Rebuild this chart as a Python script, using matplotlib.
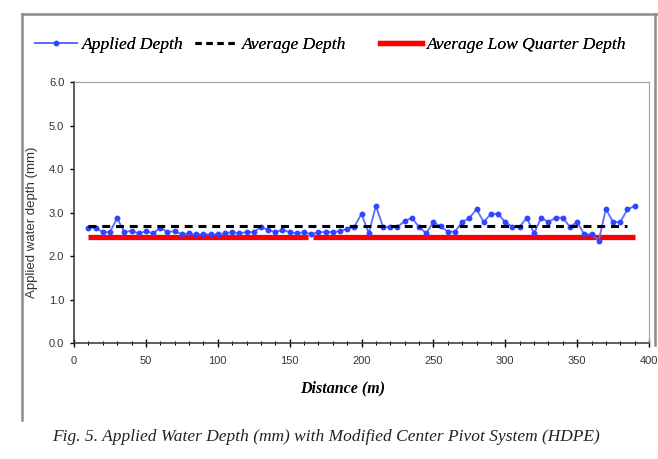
import numpy as np
import matplotlib
matplotlib.use("Agg")
import matplotlib.pyplot as plt
from matplotlib.lines import Line2D
from matplotlib.ticker import MultipleLocator, FormatStrFormatter

# %% — Data
distance = list(range(10, 395, 5))   # m, 10 ... 390
applied_depth = [
    2.65, 2.65, 2.55, 2.55, 2.87, 2.55, 2.58, 2.52, 2.57, 2.52,   # 10-55
    2.65, 2.55, 2.57, 2.50, 2.52, 2.50, 2.50, 2.50, 2.50, 2.52,   # 60-105
    2.55, 2.52, 2.55, 2.55, 2.67, 2.60, 2.55, 2.60, 2.55, 2.52,   # 110-155
    2.55, 2.50, 2.55, 2.55, 2.55, 2.57, 2.62, 2.67,               # 160-195
    2.97, 2.52, 3.15, 2.67, 2.67, 2.67, 2.80, 2.88, 2.67, 2.52,   # 200-245
    2.78, 2.68, 2.56, 2.56, 2.78, 2.87, 3.08, 2.78, 2.97, 2.97,   # 250-295
    2.78, 2.67, 2.67, 2.88, 2.52, 2.88, 2.78, 2.88, 2.88, 2.67,   # 300-345
    2.78, 2.50, 2.50, 2.35, 3.08, 2.78, 2.78, 3.07, 3.15,         # 350-390
]
avg_x     = [10, 385]
avg_depth = [2.69, 2.69]
lowq_x     = [10, 163, np.nan, 166, 390]   # small break in the red line
lowq_depth = [2.43, 2.43, np.nan, 2.43, 2.43]

xticks = list(range(0, 401, 50))
yticks = [0.0, 1.0, 2.0, 3.0, 4.0, 5.0, 6.0]

BLUE_LINE = "#5b6dff"
BLUE_MARK = "#2f45ff"
SERIF = ["Liberation Serif", "DejaVu Serif"]
SANS  = ["Liberation Sans", "DejaVu Sans"]

W, H = 658, 459
fig = plt.figure(figsize=(W / 100, H / 100), dpi=100)
ax = fig.add_axes([74 / W, 1 - 343 / H, (649 - 74) / W, (343 - 82) / H])

ax.plot(distance, applied_depth, color=BLUE_LINE, lw=1.3, marker="o",
        ms=3.2, mfc=BLUE_MARK, mec=BLUE_MARK, zorder=3)
ax.plot(avg_x, avg_depth, color="black", lw=2.2, ls=(0, (2.6, 1.9)), zorder=4)
ax.plot(lowq_x, lowq_depth, color="#ff0000", lw=3.8, solid_capstyle="butt", zorder=2)

ax.set_xlim(0, 400)
ax.set_ylim(0, 6)
ax.set_xticks(xticks)
ax.set_yticks(yticks)
ax.xaxis.set_minor_locator(MultipleLocator(10))
ax.yaxis.set_major_formatter(FormatStrFormatter("%.1f"))
ax.tick_params(axis="x", which="major", direction="inout", length=6, width=1,
               pad=6, labelsize=8, labelcolor="#333333")
ax.tick_params(axis="x", which="minor", direction="inout", length=3, width=0.8)
ax.tick_params(axis="y", which="major", direction="out", length=3, width=1,
               pad=4, labelsize=8, labelcolor="#333333")
for lab in ax.get_xticklabels() + ax.get_yticklabels():
    lab.set_family(SANS)
for side in ["top", "right"]:
    ax.spines[side].set_color("#a0a0a0")
for side in ["left", "bottom"]:
    ax.spines[side].set_color("#333333")
    ax.spines[side].set_linewidth(1.1)

fig.text(32 / W, 1 - 222 / H, "Applied water depth (mm)", rotation=90,
         ha="center", va="center", fontsize=9.5, color="#333333", family=SANS)
fig.text(343 / W, 1 - 388 / H, "Distance (m)", ha="center", va="center",
         fontsize=11.5, fontweight="bold", fontstyle="italic", family=SERIF)
fig.text(52 / W, 1 - 437 / H,
         "Fig. 5. Applied Water Depth (mm) with Modified Center Pivot System (HDPE)",
         ha="left", va="center", fontsize=12.5, fontstyle="italic", family=SERIF,
         color="#222222")

# legend: three single-entry legends spread across the top
entries = [
    (Line2D([], [], color=BLUE_LINE, lw=1.3, marker="o", ms=3, mfc=BLUE_MARK,
            mec=BLUE_MARK), "Applied Depth", 35),
    (Line2D([], [], color="black", lw=2.2, ls=(0, (2.0, 1.6))), "Average Depth", 195),
    (Line2D([], [], color="#ff0000", lw=3.8), "Average Low Quarter Depth", 380),
]
for handle, label, x0 in entries:
    leg = fig.legend([handle], [label], loc="center left",
                     bbox_to_anchor=(x0 / W, 1 - 45 / H), frameon=False,
                     borderpad=0, borderaxespad=0, handlelength=2.4,
                     handletextpad=0.3,
                     prop={"family": SERIF, "style": "italic", "size": 12.6})
    fig.add_artist(leg)

# grey frame around the chart panel
frame_kw = dict(color="#8c8c8c", lw=1.8, transform=fig.transFigure)
fig.add_artist(Line2D([22 / W, 22 / W], [1 - 14 / H, 1 - 420 / H], **frame_kw))
fig.add_artist(Line2D([22 / W, 1.0], [1 - 14 / H, 1 - 14 / H], **frame_kw))
fig.add_artist(Line2D([655 / W, 655 / W], [1 - 14 / H, 1 - 345 / H], **frame_kw))

fig.savefig("out.png", dpi=100)
